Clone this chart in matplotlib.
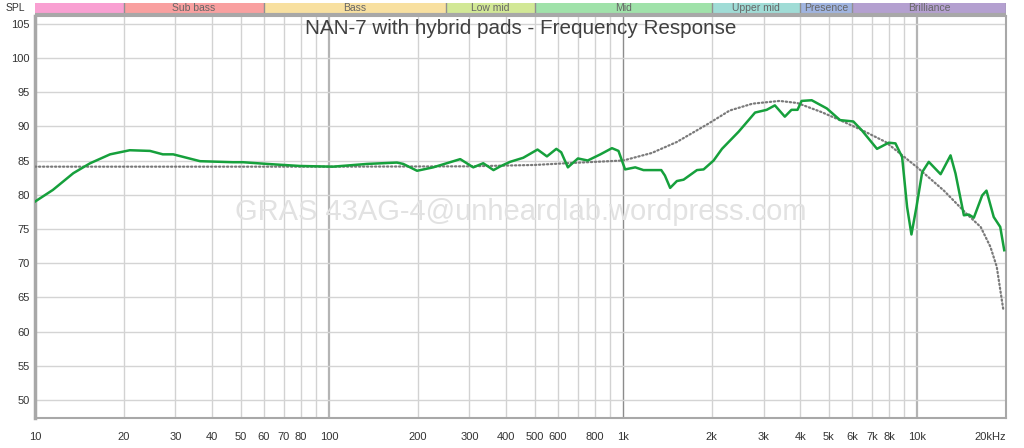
import numpy as np
import matplotlib
matplotlib.use("Agg")
import matplotlib.pyplot as plt

plt.rcParams['font.family'] = ['Liberation Sans', 'DejaVu Sans']

# measured response (Hz, dB SPL)
freq = [10, 11.5, 13.5, 15.4, 18.0, 21.0, 24.6, 27.2, 29.5, 36.4, 47.1, 50.9,
        61.5, 79.6, 103, 134.6, 170, 178.6, 199, 225.8, 279, 309, 334, 362,
        382, 412, 457, 511, 550, 592, 615, 648, 701, 757, 836, 915, 963,
        1014, 1098, 1171, 1346, 1385, 1443, 1521, 1603, 1780, 1875, 2028,
        2165, 2466, 2805, 3073, 3276, 3541, 3730, 3911, 4037, 4370, 4920,
        5455, 6053, 6471, 7286, 7985, 8418, 8869, 9222, 9540, 9921, 10378,
        10927, 11987, 12957, 13471, 14382, 14954, 15550, 16598, 17164, 18167,
        19117, 19725]
spl = [79.0, 80.7, 83.15, 84.6, 85.9, 86.5, 86.4, 85.9, 85.9, 84.9, 84.75, 84.75,
       84.5, 84.2, 84.1, 84.5, 84.7, 84.5, 83.5, 84.0, 85.2, 84.0, 84.6, 83.6,
       84.15, 84.8, 85.4, 86.6, 85.6, 86.7, 86.2, 84.0, 85.3, 85.0, 85.9, 86.8, 86.4,
       83.7, 84.0, 83.6, 83.6, 82.8, 81.0, 82.0, 82.2, 83.6, 83.7, 85.0,
       86.7, 89.2, 92.0, 92.4, 93.05, 91.4, 92.4, 92.4, 93.7, 93.8, 92.6,
       90.9, 90.7, 89.4, 86.7, 87.6, 87.5, 85.5, 78.2, 74.2, 78.2, 83.3,
       84.8, 83.0, 85.75, 83.1, 77.0, 77.1, 76.65, 79.9, 80.6, 76.75,
       75.3, 71.9]

# target curve (dotted)
target_freq = [10, 100, 300, 500, 640, 800, 1000, 1250, 1520, 1950, 2300, 2750,
               3400, 3900, 4700, 5450, 6500, 7800, 9950, 12300, 14700, 16400,
               17700, 18600, 19600]
target_spl = [84.1, 84.1, 84.15, 84.35, 84.6, 84.8, 85.0, 86.1, 87.7, 90.4, 92.3, 93.3,
              93.7, 93.4, 92.1, 90.9, 89.4, 87.7, 84.05, 80.6, 77.2, 75.3,
              72.4, 69.5, 63.1]

bands = ['', 'Sub bass', 'Bass', 'Low mid', 'Mid', 'Upper mid', 'Presence', 'Brilliance']
band_edges = [10, 20, 60, 250, 500, 2000, 4000, 6000, 20000]
band_colors = ['#f9a0d2', '#f9a0a0', '#f8e0a0', '#d2e896', '#a0e2aa', '#a0dcd6',
               '#a0b4e0', '#b4a0d0']

xticks = [10, 20, 30, 40, 50, 60, 70, 80, 100, 200, 300, 400, 500, 600, 800,
          1000, 2000, 3000, 4000, 5000, 6000, 7000, 8000, 10000, 20000]
xlabels = ['10', '20', '30', '40', '50', '60', '70', '80', '100', '200', '300',
           '400', '500', '600', '800', '1k', '2k', '3k', '4k', '5k', '6k', '7k',
           '8k', '10k', '20kHz']
yticks = list(range(50, 106, 5))

W, H = 1024, 448
fig = plt.figure(figsize=(W / 100, H / 100), dpi=100)
fig.patch.set_facecolor('white')

L, R = 35 / W, 1006 / W
ax = fig.add_axes([L, (H - 418) / H, R - L, (418 - 16) / H])
bx = fig.add_axes([L, (H - 16) / H, R - L, 13 / H])

# grid
gridlines = []
for d in [10, 100, 1000, 10000]:
    for m in range(1, 10):
        f = d * m
        if f > 20000:
            break
        gridlines.append(f)
for f in gridlines:
    if f in (100, 10000):
        ax.axvline(f, color='#b4b4b4', lw=1.6, zorder=1)
    elif f == 1000:
        ax.axvline(f, color='#8c8c8c', lw=1.0, zorder=1)
    else:
        ax.axvline(f, color='#d2d2d2', lw=1.0, zorder=1)
for y in yticks:
    ax.axhline(y, color='#d4d4d4', lw=1.0, zorder=1)

mid = np.sqrt(10 * 20000)
ax.text(mid, 77.45, 'GRAS 43AG-4@unheardlab.wordpress.com',
        ha='center', va='center', fontsize=21, color='#e2e2e2', zorder=2)
ax.text(mid, 104.3, 'NAN-7 with hybrid pads - Frequency Response',
        ha='center', va='center', fontsize=14.9, color='#404040', zorder=5)

ax.plot(target_freq, target_spl, color='#7a7a7a', lw=1.6, ls=(0, (0.6, 1.2)),
        dash_capstyle='round', zorder=3)
ax.plot(freq, spl, color='#16a03c', lw=1.8, zorder=4, solid_joinstyle='round')

ax.set_xscale('log')
ax.set_xlim(10, 20000)
ax.set_ylim(47.4, 106.1)
ax.set_xticks(xticks)
ax.set_xticklabels(xlabels)
ax.minorticks_off()
ax.set_yticks(yticks)
ax.tick_params(length=0, labelsize=8, colors='#333333')
ax.tick_params(axis='x', pad=10)
ax.tick_params(axis='y', pad=4)
ax.get_xticklabels()[-1].set_horizontalalignment('right')
for s in ax.spines.values():
    s.set_color('#a8a8a8')
    s.set_linewidth(1.5)
ax.spines['left'].set_linewidth(2.5)

# frequency band strip
for name, lo, hi, c in zip(bands, band_edges[:-1], band_edges[1:], band_colors):
    bx.axvspan(lo, hi, color=c, lw=0)
    bx.axvline(hi, color='#909090', lw=1.0)
    if name:
        bx.text(np.sqrt(lo * hi), 0.62, name, ha='center', va='center',
                fontsize=7.5, color='#666666')
bx.set_xscale('log')
bx.set_xlim(10, 20000)
bx.set_ylim(0, 1)
bx.set_xticks([])
bx.set_yticks([])
bx.minorticks_off()
for s in bx.spines.values():
    s.set_visible(False)
bx.axhline(0.08, color='#a8a8a8', lw=3)
fig.text(15 / W, (H - 8) / H, 'SPL', ha='center', va='center', fontsize=7.5,
         color='#333333')

fig.savefig('out.png', dpi=100)
